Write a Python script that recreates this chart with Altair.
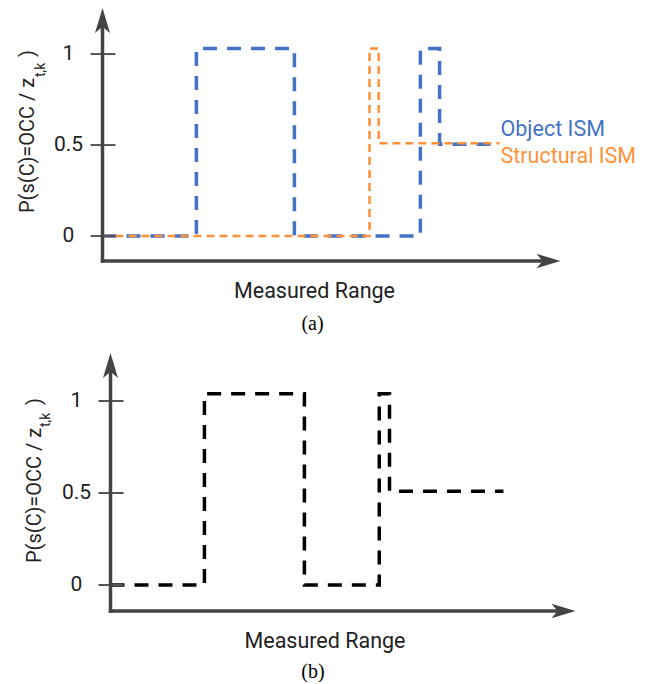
import altair as alt
import pandas as pd

# ---------------- data ----------------
# Panel (a): measured-range breakpoints (arbitrary units, 0..100 along the x axis) and probabilities
object_x = [0, 20.5, 41.9, 69.4, 73.6, 86.7]
object_p = [0, 1.03, 0, 1.03, 0.505, 0.505]
struct_x = [0, 58.3, 60.3, 86.7]
struct_p = [0, 1.03, 0.51, 0.51]
# Panel (b): combined ISM
combined_x = [0, 20.2, 41.7, 57.8, 60.0, 84.5]
combined_p = [0, 1.04, 0, 1.04, 0.51, 0.51]

tick_values = [0, 0.5, 1]
tick_labels = ["0", "0.5", "1"]
series_names = ["Object ISM", "Structural ISM"]
series_colors = ["#4472C4", "#FF9138"]

# ---------------- styling ----------------
AXIS = "#444444"
FONT = "Roboto"
ARROW = "M0,-1L0.6,1L0,0.5L-0.6,1Z"
one = pd.DataFrame({"i": [0]})
ticks_df = pd.DataFrame({"v": tick_values, "t": tick_labels})


def step_line(xs, ps, xsc, ysc, color, dash, width):
    df = pd.DataFrame({"x": xs, "p": ps})
    return alt.Chart(df).mark_line(
        interpolate="step-after", strokeDash=dash, strokeWidth=width, color=color
    ).encode(
        x=alt.X("x:Q", scale=xsc, axis=None),
        y=alt.Y("p:Q", scale=ysc, axis=None),
    )


def text_at(txt, x, y, size, color="#222222", font=FONT, align="left", angle=0):
    return alt.Chart(one).mark_text(
        text=txt, font=font, fontSize=size, color=color, align=align,
        baseline="alphabetic", angle=angle,
    ).encode(x=alt.value(x), y=alt.value(y))


def panel(lines, W, H, xdom, ydom, ox, t, tag):
    xsc = alt.Scale(domain=xdom, nice=False, zero=False)
    ysc = alt.Scale(domain=ydom, nice=False, zero=False)
    layers = [l(xsc, ysc) for l in lines]
    yaxis = alt.Chart(one).mark_rule(color=AXIS, strokeWidth=3.5).encode(
        x=alt.value(ox), y=alt.value(14), y2=alt.value(H + 1.75))
    xaxis = alt.Chart(one).mark_rule(color=AXIS, strokeWidth=3.5).encode(
        x=alt.value(ox - 1.75), x2=alt.value(W - 12), y=alt.value(H))
    yarrow = alt.Chart(one).mark_point(shape=ARROW, filled=True, size=625, color=AXIS, opacity=1).encode(
        x=alt.value(ox), y=alt.value(12.5))
    xarrow = alt.Chart(one).mark_point(shape=ARROW, filled=True, size=576, color=AXIS, opacity=1, angle=90).encode(
        x=alt.value(W - 12), y=alt.value(H))
    ticks = alt.Chart(ticks_df).mark_rule(color="#555555", strokeWidth=2).encode(
        y=alt.Y("v:Q", scale=ysc, axis=None), x=alt.value(ox - 12), x2=alt.value(ox + 13))
    tlabels = alt.Chart(ticks_df).mark_text(font=FONT, fontSize=21, color="#222222",
                                             align="center", baseline="middle").encode(
        y=alt.Y("v:Q", scale=ysc, axis=None), x=alt.value(ox - 34), text="t:N")
    title_main = text_at("P(s(C)=OCC / z", t["tx"], t["ty"], 20, angle=270)
    title_sub = text_at("t,k", t["sx"], t["sy"], 14, angle=270)
    title_end = text_at(")", t["tx"], t["ey"], 20, angle=270)
    xtitle = text_at("Measured Range", t["mx"], t["my"], 21.5, align="center")
    cap = text_at(tag, t["cx"], t["cy"], 20, color="#000000", font="Liberation Serif", align="center")
    return alt.layer(*layers, ticks, tlabels, yaxis, xaxis, yarrow, xarrow,
                     title_main, title_sub, title_end, xtitle, cap).properties(width=W, height=H)


lines_a = [
    lambda xs, ys: step_line(object_x, object_p, xs, ys, series_colors[0], [14, 10], 3.5),
    lambda xs, ys: step_line(struct_x, struct_p, xs, ys, series_colors[1], [8, 5], 2.5),
]
lines_b = [
    lambda xs, ys: step_line(combined_x, combined_p, xs, ys, "#000000", [14, 10], 3.5),
]

pa = panel(lines_a, 458, 253, [0, 100], [-0.137, 1.253], 0,
           dict(tx=-68.5, ty=205, sx=-58, sy=69, ey=49, mx=212, my=290, cx=210, cy=322), "(a)")
legend_a = [
    text_at(series_names[0], 398, 128, 21.5, color=series_colors[0]),
    text_at(series_names[1], 398, 155, 21.5, color=series_colors[1]),
]
pa = alt.layer(pa, *legend_a)

pb = panel(lines_b, 473, 258, [-1.72, 100], [-0.1413, 1.261], 8,
           dict(tx=-62, ty=210, sx=-53, sy=74, ey=52, mx=222.5, my=295, cx=210.5, cy=325), "(b)")

chart = alt.vconcat(pa, pb, spacing=92, bounds="flush").configure_view(stroke=None).properties(
    padding={"left": 9.5, "top": 0, "right": 0, "bottom": 0})

chart.save("out.html", embed_options={"renderer": "svg", "actions": False})
